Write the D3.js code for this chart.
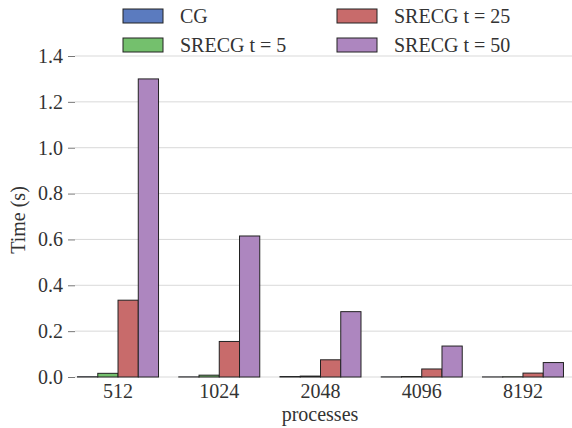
<!DOCTYPE html>
<html>
<head>
<meta charset="utf-8">
<script src="https://cdn.jsdelivr.net/npm/d3@7"></script>
<style>
  body { margin: 0; background: #fff; }
  svg text { font-family: "Liberation Serif", "DejaVu Serif", serif; fill: #333; }
</style>
</head>
<body>
<svg id="chart" width="572" height="428"></svg>
<script>
// data
const processes = ["512", "1024", "2048", "4096", "8192"];
const seriesNames = ["CG", "SRECG t = 5", "SRECG t = 25", "SRECG t = 50"];
const cg       = [0.001, 0.0005, 0.002, 0.0005, 0.0003];
const srecg5   = [0.016, 0.008, 0.004, 0.002, 0.001];
const srecg25  = [0.335, 0.155, 0.075, 0.035, 0.017];
const srecg50  = [1.30, 0.615, 0.285, 0.135, 0.063];
const yTicks   = [0.0, 0.2, 0.4, 0.6, 0.8, 1.0, 1.2, 1.4];
const colors   = ["#5b7bbf", "#74c06d", "#c86b6b", "#ad86bf"];

const series = [cg, srecg5, srecg25, srecg50];

var svg = d3.select("#chart");
var plotLeft = 75, plotRight = 572, plotTop = 56, plotBottom = 377;
var fs = "20px";

var x = d3.scaleBand().domain(processes).range([67.4, 573.6])
    .paddingInner(0.2).paddingOuter(0.1);
var xs = d3.scaleBand().domain(seriesNames).range([0, x.bandwidth()]);
var y = d3.scaleLinear().domain([0, 1.4]).range([plotBottom, plotTop]);

// grid
svg.append("g")
  .selectAll("line")
  .data(yTicks)
  .enter().append("line")
  .attr("x1", plotLeft).attr("x2", plotRight)
  .attr("y1", d => y(d)).attr("y2", d => y(d))
  .attr("stroke", "#d9d9d9").attr("stroke-width", 1);

// y axis
var yAxis = svg.append("g")
  .attr("transform", "translate(" + plotLeft + ",0)")
  .call(d3.axisLeft(y).tickValues(yTicks).tickFormat(d3.format(".1f")).tickSize(7).tickPadding(5));
yAxis.select(".domain").remove();
yAxis.selectAll("line").attr("stroke", "#777");
yAxis.selectAll("text").attr("font-size", fs).style("font-family", "Liberation Serif, serif").attr("fill", "#333");

// bars
var groups = svg.append("g").selectAll("g")
  .data(processes)
  .enter().append("g")
  .attr("transform", d => "translate(" + x(d) + ",0)");

groups.selectAll("rect")
  .data((p, i) => series.map((s, k) => ({name: seriesNames[k], v: s[i], k: k})))
  .enter().append("rect")
  .attr("x", d => xs(d.name))
  .attr("y", d => y(d.v))
  .attr("width", xs.bandwidth())
  .attr("height", d => y(0) - y(d.v))
  .attr("fill", d => colors[d.k])
  .attr("stroke", "#222")
  .attr("stroke-width", 1);

// x axis labels
var xAxis = svg.append("g")
  .attr("transform", "translate(0," + plotBottom + ")")
  .call(d3.axisBottom(x).tickSize(0).tickPadding(7));
xAxis.select(".domain").remove();
xAxis.selectAll("text").attr("font-size", fs).style("font-family", "Liberation Serif, serif").attr("fill", "#333");

// axis titles
svg.append("text")
  .attr("x", 320).attr("y", 421)
  .attr("text-anchor", "middle")
  .attr("font-size", fs)
  .text("processes");

svg.append("text")
  .attr("transform", "translate(25,220) rotate(-90)")
  .attr("text-anchor", "middle")
  .attr("font-size", fs)
  .text("Time (s)");

// legend
var legendPos = [[123, 9], [123, 38], [337, 9], [337, 38]];
var leg = svg.append("g").selectAll("g")
  .data(seriesNames)
  .enter().append("g")
  .attr("transform", (d, i) => "translate(" + legendPos[i][0] + "," + legendPos[i][1] + ")");
leg.append("rect")
  .attr("width", 40).attr("height", 14)
  .attr("fill", (d, i) => colors[i])
  .attr("stroke", "#222").attr("stroke-width", 1);
leg.append("text")
  .attr("x", 57).attr("y", 14)
  .attr("font-size", fs)
  .text(d => d);
</script>
</body>
</html>
